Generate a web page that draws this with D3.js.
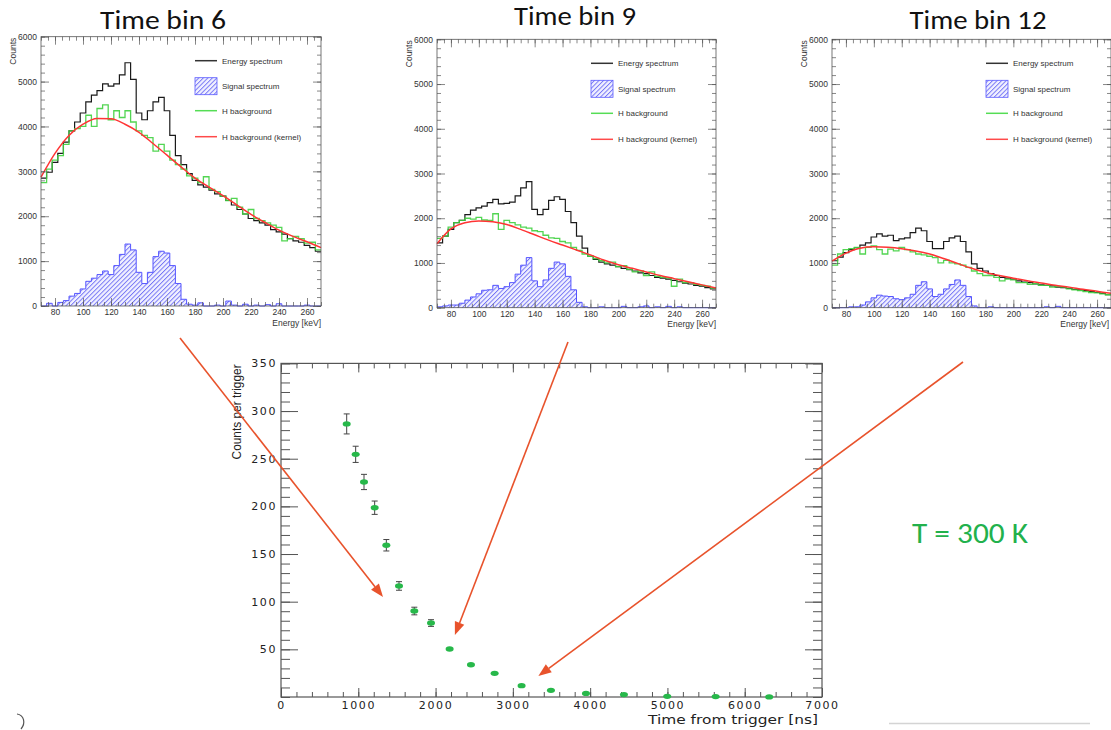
<!DOCTYPE html>
<html lang="en">
<head>
<meta charset="UTF-8">
<title>Time bins and counts per trigger</title>
<style>
  body { margin: 0; background: #fff; }
  svg { display: block; }
  .small text { font-family: "Liberation Sans", Arial, sans-serif; fill: #333; }
  .main text { font-family: "DejaVu Sans", sans-serif; fill: #222; }
  .title { font-family: Carlito, Calibri, Lato, sans-serif; font-weight: 400; fill: #111; }
</style>
</head>
<body>
<svg width="1111" height="730"></svg>
<script src="https://cdn.jsdelivr.net/npm/d3@7"></script>
<script>

// ---- energy spectra, 4 keV bins from 70 to 270 keV ----
var binLow = [70, 74, 78, 82, 86, 90, 94, 98, 102, 106, 110, 114, 118, 122, 126, 130, 134, 138, 142, 146,
              150, 154, 158, 162, 166, 170, 174, 178, 182, 186, 190, 194, 198, 202, 206, 210, 214, 218, 222, 226,
              230, 234, 238, 242, 246, 250, 254, 258, 262, 266];
var binWidth = 4;
var kernelEnergy = [70, 80, 90, 100, 110, 120, 130, 140, 150, 160, 170, 180, 190, 200, 210, 220, 230, 240, 250, 260, 270];

var bin6Spectrum = [2850, 2980, 3200, 3400, 3650, 3900, 4100, 4300, 4550, 4700,
                    4800, 4950, 4900, 4950, 5150, 5420, 5050, 4300, 4150, 4350,
                    4550, 4650, 4350, 3800, 3350, 3150, 2950, 2800, 2700, 2650,
                    2580, 2500, 2450, 2350, 2250, 2150, 2050, 1950, 1900, 1850,
                    1800, 1700, 1650, 1600, 1500, 1450, 1420, 1350, 1300, 1220];
var bin6Hbkg = [2750, 3050, 3250, 3350, 3600, 3900, 3950, 4000, 4250, 4000,
                4400, 4480, 4150, 4350, 4200, 4350, 4100, 3900, 3800, 3750,
                3450, 3600, 3450, 3250, 3150, 3050, 2900, 2850, 2750, 2880,
                2600, 2550, 2450, 2350, 2400, 2200, 2050, 2150, 1950, 1900,
                1850, 1800, 1750, 1450, 1500, 1550, 1500, 1400, 1420, 1250];
var bin6Signal = [0, 60, 0, 80, 120, 220, 280, 380, 550, 620,
                  700, 780, 700, 900, 1150, 1380, 1250, 750, 500, 750,
                  1100, 1220, 1180, 900, 500, 150, 40, 20, 70, 0,
                  0, 20, 0, 110, 20, 0, 40, 0, 20, 0,
                  30, 0, 50, 0, 0, 0, 0, 20, 0, 0];
var bin6Kernel = [2870, 3400, 3800, 4050, 4180, 4170, 4050, 3870, 3620, 3360, 3100,
                  2850, 2650, 2460, 2250, 2040, 1860, 1690, 1550, 1430, 1300];

var bin9Spectrum = [1450, 1600, 1750, 1900, 1950, 2080, 2180, 2230, 2270, 2350,
                    2420, 2320, 2330, 2360, 2500, 2680, 2820, 2200, 2080, 2200,
                    2400, 2480, 2420, 2150, 1900, 1600, 1330, 1150, 1080, 1020,
                    980, 950, 920, 880, 850, 820, 780, 760, 720, 680,
                    660, 640, 610, 580, 550, 530, 500, 480, 450, 420];
var bin9Hbkg = [1550, 1600, 1800, 1900, 1950, 2000, 1980, 2020, 1960, 1950,
                2100, 1750, 1950, 1900, 1850, 1800, 1780, 1720, 1700, 1620,
                1560, 1550, 1480, 1450, 1350, 1280, 1200, 1150, 1100, 1050,
                1000, 1020, 920, 940, 860, 800, 820, 720, 800, 700,
                680, 660, 480, 640, 560, 560, 520, 500, 480, 440];
var bin9Signal = [20, 40, 60, 60, 100, 170, 240, 310, 390, 400,
                  500, 430, 470, 560, 750, 950, 1120, 600, 470, 620,
                  880, 1020, 980, 700, 400, 120, 20, 0, 0, 20,
                  0, 0, 0, 30, 0, 0, 20, 40, 0, 20,
                  0, 30, 0, 20, 0, 0, 0, 0, 0, 0];
var bin9Kernel = [1430, 1760, 1900, 1940, 1920, 1860, 1750, 1630, 1510, 1400, 1290,
                  1180, 1060, 960, 880, 800, 720, 650, 580, 510, 440];

var bin12Spectrum = [1050, 1130, 1230, 1300, 1340, 1400, 1450, 1580, 1650, 1600,
                     1620, 1500, 1540, 1560, 1680, 1780, 1720, 1480, 1320, 1320,
                     1480, 1560, 1600, 1480, 1250, 980, 880, 820, 760, 720,
                     680, 660, 640, 600, 570, 560, 530, 510, 500, 490,
                     460, 450, 430, 410, 400, 380, 360, 340, 320, 290];
var bin12Hbkg = [950, 1200, 1300, 1320, 1350, 1200, 1350, 1380, 1300, 1200,
                 1310, 1270, 1350, 1300, 1250, 1200, 1180, 1150, 1120, 1000,
                 1060, 1000, 980, 950, 900, 820, 760, 720, 720, 680,
                 600, 640, 620, 560, 560, 520, 540, 500, 500, 460,
                 470, 460, 420, 400, 380, 360, 340, 330, 310, 290];
var bin12Signal = [0, 0, 0, 20, 20, 60, 130, 220, 280, 260,
                   250, 200, 180, 220, 300, 500, 580, 420, 250, 300,
                   420, 520, 620, 500, 250, 40, 0, 0, 20, 0,
                   0, 0, 0, 0, 0, 0, 0, 0, 20, 0,
                   30, 0, 0, 0, 0, 0, 0, 0, 0, 0];
var bin12Kernel = [1040, 1220, 1330, 1360, 1350, 1320, 1270, 1200, 1100, 990, 880,
                   790, 720, 660, 600, 550, 500, 460, 410, 370, 320];

var energyTicks = [80, 100, 120, 140, 160, 180, 200, 220, 240, 260];
var countTicks = [0, 1000, 2000, 3000, 4000, 5000, 6000];
var legendLabels = ["Energy spectrum", "Signal spectrum", "H background", "H background (kernel)"];

// ---- counts per trigger vs time ----
var triggerTime = [850, 966, 1074, 1212, 1363, 1527, 1725, 1941, 2182, 2458, 2764, 3113, 3493, 3946, 4437, 4998, 5624, 6317];
var perTrigger = [286.5, 254.6, 225.6, 198.6, 159.2, 116.5, 90.2, 77.6, 50.3, 33.9, 24.8, 11.9, 7.0, 3.8, 2.5, 0.7, 0.4, 0.1];
var perTriggerErr = [10.5, 8.5, 8, 7, 6, 4.5, 4, 3.5, 2, 1.5, 1, 1, 0.8, 0.6, 0.5, 0.3, 0.3, 0.2];
var timeTicks = [0, 1000, 2000, 3000, 4000, 5000, 6000, 7000];
var perTriggerTicks = [50, 100, 150, 200, 250, 300, 350];

var svg = d3.select("svg");

var defs = svg.append("defs");
var pat = defs.append("pattern")
    .attr("id", "hatch")
    .attr("patternUnits", "userSpaceOnUse")
    .attr("width", 3.2).attr("height", 3.2)
    .attr("patternTransform", "rotate(45)");
pat.append("rect").attr("width", 3.2).attr("height", 3.2).attr("fill", "#f1f1ff");
pat.append("line").attr("x1", 0.5).attr("y1", 0).attr("x2", 0.5).attr("y2", 3.2)
    .attr("stroke", "#6d6df5").attr("stroke-width", 0.9);

var panels = [
  {title: "Time bin 6", spectrum: bin6Spectrum, hbkg: bin6Hbkg, signal: bin6Signal, kernel: bin6Kernel,
   left: 41, right: 321, top: 36.7, bottom: 306, titleX: 163, titleY: 29, titleLen: 126},
  {title: "Time bin 9", spectrum: bin9Spectrum, hbkg: bin9Hbkg, signal: bin9Signal, kernel: bin9Kernel,
   left: 437, right: 716, top: 39.3, bottom: 307.7, titleX: 575, titleY: 25, titleLen: 122},
  {title: "Time bin 12", spectrum: bin12Spectrum, hbkg: bin12Hbkg, signal: bin12Signal, kernel: bin12Kernel,
   left: 832, right: 1111, top: 39.3, bottom: 307.7, titleX: 978, titleY: 29, titleLen: 137}
];

function steps(vals) {
  var pts = vals.map(function(v, i) { return [binLow[i], v]; });
  pts.push([binLow[vals.length - 1] + binWidth, vals[vals.length - 1]]);
  return pts;
}

panels.forEach(function(p) {
  var x = d3.scaleLinear().domain([70, 270]).range([p.left, p.right]);
  var y = d3.scaleLinear().domain([0, 6000]).range([p.bottom, p.top]);
  var g = svg.append("g").attr("class", "small");

  svg.append("text").attr("class", "title")
      .attr("x", p.titleX).attr("y", p.titleY)
      .attr("text-anchor", "middle")
      .attr("font-size", 26)
      .attr("textLength", p.titleLen).attr("lengthAdjust", "spacingAndGlyphs")
      .text(p.title);

  var stepLine = d3.line().x(function(d) { return x(d[0]); }).y(function(d) { return y(d[1]); }).curve(d3.curveStepAfter);
  var stepArea = d3.area().x(function(d) { return x(d[0]); }).y0(y(0)).y1(function(d) { return y(d[1]); }).curve(d3.curveStepAfter);

  g.append("path").datum(steps(p.signal)).attr("d", stepArea).attr("fill", "url(#hatch)");
  g.append("path").datum(steps(p.signal)).attr("d", stepLine)
      .attr("fill", "none").attr("stroke", "#5454ff").attr("stroke-width", 1);

  g.append("path").datum(steps(p.spectrum)).attr("d", stepLine)
      .attr("fill", "none").attr("stroke", "#1a1a1a").attr("stroke-width", 1.2);

  g.append("path").datum(steps(p.hbkg)).attr("d", stepLine)
      .attr("fill", "none").attr("stroke", "#3fd03f").attr("stroke-width", 1.3).attr("stroke-opacity", 0.9);

  var kern = d3.line()
      .x(function(d, i) { return x(kernelEnergy[i]); })
      .y(function(d) { return y(d); })
      .curve(d3.curveMonotoneX);
  g.append("path").datum(p.kernel).attr("d", kern)
      .attr("fill", "none").attr("stroke", "#ff3434").attr("stroke-width", 1.5);

  // frame and ticks
  g.append("rect").attr("x", p.left).attr("y", p.top)
      .attr("width", p.right - p.left).attr("height", p.bottom - p.top)
      .attr("fill", "none").attr("stroke", "#555").attr("stroke-width", 0.8);

  function styleAxis(sel) {
    sel.select(".domain").remove();
    sel.selectAll("line").attr("stroke", "#555").attr("stroke-width", 0.7);
    sel.selectAll("text").attr("font-family", null).attr("font-size", 8.5).attr("fill", "#333");
  }
  var minorE = d3.range(70, 271, 5), minorC = d3.range(0, 6001, 200);

  g.append("g").attr("transform", "translate(0," + p.bottom + ")")
      .call(d3.axisBottom(x).tickValues(energyTicks).tickSize(-8).tickPadding(3).tickFormat(d3.format("d")))
      .call(styleAxis);
  g.append("g").attr("transform", "translate(0," + p.bottom + ")")
      .call(d3.axisBottom(x).tickValues(minorE).tickSize(-4).tickFormat(""))
      .call(styleAxis);
  g.append("g").attr("transform", "translate(0," + p.top + ")")
      .call(d3.axisTop(x).tickValues(energyTicks).tickSize(-8).tickFormat(""))
      .call(styleAxis);
  g.append("g").attr("transform", "translate(0," + p.top + ")")
      .call(d3.axisTop(x).tickValues(minorE).tickSize(-4).tickFormat(""))
      .call(styleAxis);
  g.append("g").attr("transform", "translate(" + p.left + ",0)")
      .call(d3.axisLeft(y).tickValues(countTicks).tickSize(-8).tickPadding(4).tickFormat(d3.format("d")))
      .call(styleAxis);
  g.append("g").attr("transform", "translate(" + p.left + ",0)")
      .call(d3.axisLeft(y).tickValues(minorC).tickSize(-4).tickFormat(""))
      .call(styleAxis);
  g.append("g").attr("transform", "translate(" + p.right + ",0)")
      .call(d3.axisRight(y).tickValues(countTicks).tickSize(-8).tickFormat(""))
      .call(styleAxis);
  g.append("g").attr("transform", "translate(" + p.right + ",0)")
      .call(d3.axisRight(y).tickValues(minorC).tickSize(-4).tickFormat(""))
      .call(styleAxis);

  g.append("text")
      .attr("transform", "translate(" + (p.left - 25) + "," + (p.top + 1) + ") rotate(-90)")
      .attr("text-anchor", "end").attr("font-size", 8.5)
      .text("Counts");
  g.append("text")
      .attr("x", Math.min(p.right, 1109)).attr("y", p.bottom + 19.5)
      .attr("text-anchor", "end").attr("font-size", 8.5)
      .text("Energy [keV]");

  // legend
  var lx = p.left + 154, ly = p.top;
  var leg = g.append("g");
  leg.append("line").attr("x1", lx).attr("x2", lx + 22).attr("y1", ly + 24).attr("y2", ly + 24)
      .attr("stroke", "#333").attr("stroke-width", 1.5);
  leg.append("rect").attr("x", lx).attr("y", ly + 41).attr("width", 22).attr("height", 17)
      .attr("fill", "url(#hatch)").attr("stroke", "#5a5aff").attr("stroke-width", 0.8);
  leg.append("line").attr("x1", lx).attr("x2", lx + 22).attr("y1", ly + 74).attr("y2", ly + 74)
      .attr("stroke", "#55dd55").attr("stroke-width", 1.5);
  leg.append("line").attr("x1", lx).attr("x2", lx + 22).attr("y1", ly + 100).attr("y2", ly + 100)
      .attr("stroke", "#ff4a4a").attr("stroke-width", 1.5);
  leg.selectAll("text").data(legendLabels).enter().append("text")
      .attr("x", lx + 27)
      .attr("y", function(d, i) { return ly + [24, 49.5, 74, 100][i] + 2.8; })
      .attr("font-size", 8)
      .text(function(d) { return d; });
});

// ---- main plot ----
var tx = d3.scaleLinear().domain([0, 7000]).range([281, 822]);
var ty = d3.scaleLinear().domain([0, 350]).range([697, 363.4]);
var m = svg.append("g").attr("class", "main");

m.append("rect").attr("x", tx(0)).attr("y", ty(350))
    .attr("width", tx(7000) - tx(0)).attr("height", ty(0) - ty(350))
    .attr("fill", "none").attr("stroke", "#555").attr("stroke-width", 1.2);

function styleMain(sel) {
  sel.select(".domain").remove();
  sel.selectAll("line").attr("stroke", "#555").attr("stroke-width", 1);
  sel.selectAll("text").attr("font-family", null).attr("font-size", 11).attr("letter-spacing", 1.6).attr("fill", "#222");
}
var minorT = d3.range(0, 7001, 200), minorY = d3.range(0, 351, 10);
m.append("g").attr("transform", "translate(0," + ty(0) + ")")
    .call(d3.axisBottom(tx).tickValues(timeTicks).tickSize(-9).tickPadding(4).tickFormat(d3.format("d")))
    .call(styleMain);
m.append("g").attr("transform", "translate(0," + ty(0) + ")")
    .call(d3.axisBottom(tx).tickValues(minorT).tickSize(-5).tickFormat(""))
    .call(styleMain);
m.append("g").attr("transform", "translate(0," + ty(350) + ")")
    .call(d3.axisTop(tx).tickValues(timeTicks).tickSize(-9).tickFormat(""))
    .call(styleMain);
m.append("g").attr("transform", "translate(0," + ty(350) + ")")
    .call(d3.axisTop(tx).tickValues(minorT).tickSize(-5).tickFormat(""))
    .call(styleMain);
m.append("g").attr("transform", "translate(" + tx(0) + ",0)")
    .call(d3.axisLeft(ty).tickValues(perTriggerTicks).tickSize(-17).tickPadding(4).tickFormat(d3.format("d")))
    .call(styleMain);
m.append("g").attr("transform", "translate(" + tx(0) + ",0)")
    .call(d3.axisLeft(ty).tickValues(minorY).tickSize(-9).tickFormat(""))
    .call(styleMain);
m.append("g").attr("transform", "translate(" + tx(7000) + ",0)")
    .call(d3.axisRight(ty).tickValues(perTriggerTicks).tickSize(-17).tickFormat(""))
    .call(styleMain);
m.append("g").attr("transform", "translate(" + tx(7000) + ",0)")
    .call(d3.axisRight(ty).tickValues(minorY).tickSize(-9).tickFormat(""))
    .call(styleMain);

m.append("text")
    .attr("x", tx(7000) - 4).attr("y", ty(0) + 27)
    .attr("text-anchor", "end").attr("font-size", 12.5)
    .attr("textLength", 170).attr("lengthAdjust", "spacingAndGlyphs")
    .text("Time from trigger [ns]");
m.append("text")
    .attr("transform", "translate(" + 241 + "," + (ty(350) + 1) + ") rotate(-90)")
    .attr("text-anchor", "end").attr("font-size", 13)
    .attr("textLength", 95).attr("lengthAdjust", "spacingAndGlyphs")
    .style("font-family", "'Liberation Sans', Arial, sans-serif")
    .text("Counts per trigger");

// error bars
var eb = m.append("g").attr("stroke", "#444").attr("stroke-width", 1);
triggerTime.forEach(function(t, i) {
  var yTop = ty(perTrigger[i] + perTriggerErr[i]), yBot = ty(perTrigger[i] - perTriggerErr[i]);
  eb.append("line").attr("x1", tx(t)).attr("x2", tx(t)).attr("y1", yTop).attr("y2", yBot);
  if (yBot - yTop > 5) {
    eb.append("line").attr("x1", tx(t) - 3).attr("x2", tx(t) + 3).attr("y1", yTop).attr("y2", yTop);
    eb.append("line").attr("x1", tx(t) - 3).attr("x2", tx(t) + 3).attr("y1", yBot).attr("y2", yBot);
  }
});
m.selectAll(".pt").data(triggerTime).enter().append("ellipse")
    .attr("class", "pt")
    .attr("cx", function(d) { return tx(d); })
    .attr("cy", function(d, i) { return ty(perTrigger[i]); })
    .attr("rx", 4).attr("ry", 2.7)
    .attr("fill", "#27b84a");

// arrows from the time-bin panels to their points
var arrowStarts = [[180, 338], [568, 342], [963, 362]];
var arrowTips = [[1320, 105], [2250, 65], [3330, 22]];
var ar = svg.append("g");
arrowStarts.forEach(function(s, i) {
  var ex = tx(arrowTips[i][0]), ey = ty(arrowTips[i][1]);
  var ang = Math.atan2(ey - s[1], ex - s[0]);
  var L = 13, W = 5;
  var bx = ex - L * Math.cos(ang), by = ey - L * Math.sin(ang);
  ar.append("line").attr("x1", s[0]).attr("y1", s[1]).attr("x2", bx).attr("y2", by)
      .attr("stroke", "#e8532c").attr("stroke-width", 1.6);
  ar.append("path")
      .attr("d", "M" + ex + "," + ey +
                 "L" + (bx + W * Math.sin(ang)) + "," + (by - W * Math.cos(ang)) +
                 "L" + (bx - W * Math.sin(ang)) + "," + (by + W * Math.cos(ang)) + "Z")
      .attr("fill", "#e8532c");
});

svg.append("text").attr("class", "title")
    .attr("x", 912).attr("y", 543)
    .attr("font-size", 28)
    .style("fill", "#22b14c")
    .attr("textLength", 116).attr("lengthAdjust", "spacingAndGlyphs")
    .text("T = 300 K");

// slide leftovers
svg.append("line").attr("x1", 889).attr("x2", 1090).attr("y1", 723.5).attr("y2", 723.5)
    .attr("stroke", "#d4d4d4").attr("stroke-width", 1.5);
svg.append("path").attr("d", "M17,714 C24,715 26,723 21,729")
    .attr("fill", "none").attr("stroke", "#555").attr("stroke-width", 1.2);

</script>
</body>
</html>
